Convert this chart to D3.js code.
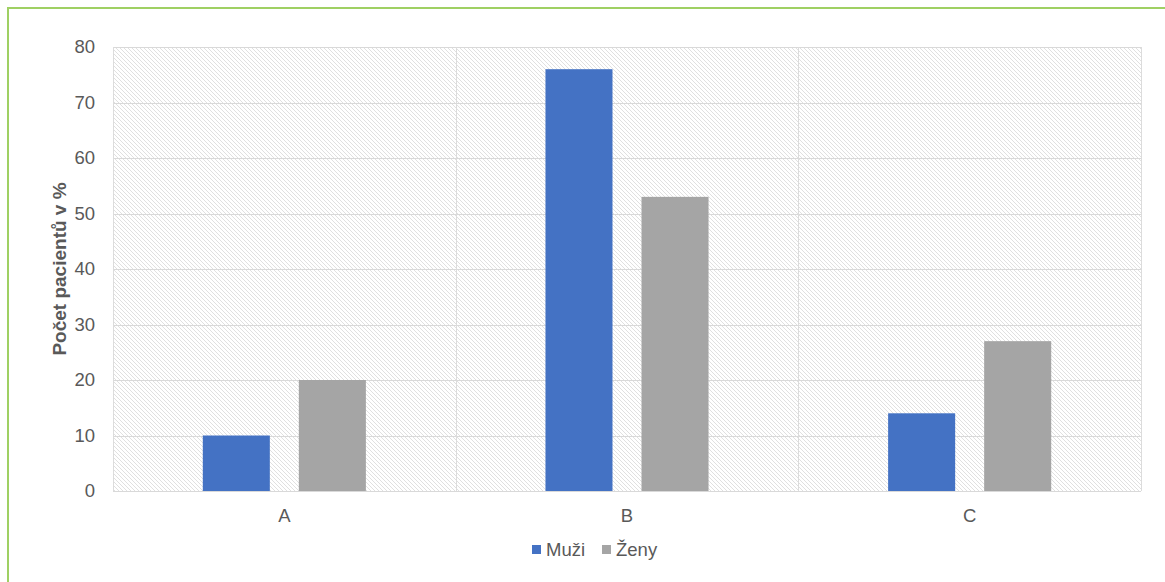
<!DOCTYPE html>
<html><head><meta charset="utf-8">
<script src="https://cdn.jsdelivr.net/npm/d3@7"></script>
<style>html,body{margin:0;padding:0;background:#fff;}svg{display:block;font-family:"Liberation Sans",Arial,sans-serif;}</style>
</head><body>
<script>
const categories = ["A", "B", "C"];
const seriesNames = ["Muži", "Ženy"];
const muzi = [10, 76, 14];
const zeny = [20, 53, 27];
const yTicks = [0, 10, 20, 30, 40, 50, 60, 70, 80];
const yTitle = "Počet pacientů v %";
const colors = ["#4472C4", "#A5A5A5"];

const W = 1165, H = 582;
const m = {left: 113, right: 1141, top: 47, bottom: 491};
const svg = d3.select("body").append("svg").attr("width", W).attr("height", H);

// frame
svg.append("line").attr("x1", 8).attr("x2", W).attr("y1", 8).attr("y2", 8).attr("stroke", "#9fd063").attr("stroke-width", 2);
svg.append("line").attr("x1", 8).attr("x2", 8).attr("y1", 7).attr("y2", H).attr("stroke", "#9fd063").attr("stroke-width", 2);

const defs = svg.append("defs");
const pat = defs.append("pattern").attr("id", "hatch").attr("patternUnits", "userSpaceOnUse")
  .attr("width", 4).attr("height", 4);
pat.append("rect").attr("width", 4).attr("height", 4).attr("fill", "#fff");
pat.append("path").attr("d", "M-1,-1L5,5M3,-1L5,1M-1,3L1,5").attr("stroke", "#e0e0e0").attr("stroke-width", 1);

const x0 = d3.scaleBand().domain(categories).range([m.left, m.right]);
const x1 = d3.scaleBand().domain(seriesNames).range([0, x0.bandwidth()]).paddingInner(0.302).paddingOuter(0.935);
const y = d3.scaleLinear().domain([0, 80]).range([m.bottom, m.top]);

svg.append("rect").attr("x", m.left).attr("y", m.top).attr("width", m.right - m.left).attr("height", m.bottom - m.top).attr("fill", "url(#hatch)");

// horizontal gridlines
svg.append("g").selectAll("line").data(yTicks).join("line")
  .attr("x1", m.left).attr("x2", m.right)
  .attr("y1", d => Math.round(y(d)) + 0.5).attr("y2", d => Math.round(y(d)) + 0.5)
  .attr("stroke", "#d9d9d9").attr("stroke-width", 1);
// vertical gridlines
const vx = categories.map(c => x0(c)).concat([m.right]);
svg.append("g").selectAll("line").data(vx).join("line")
  .attr("x1", d => Math.round(d) + 0.5).attr("x2", d => Math.round(d) + 0.5)
  .attr("y1", m.top).attr("y2", m.bottom)
  .attr("stroke", "#dcdcdc").attr("stroke-width", 1);

// bars
const data = categories.map((c, i) => ({c, vals: [muzi[i], zeny[i]]}));
const g = svg.append("g").selectAll("g").data(data).join("g").attr("transform", d => `translate(${x0(d.c)},0)`);
g.selectAll("rect").data(d => d.vals.map((v, j) => ({v, s: seriesNames[j], j}))).join("rect")
  .attr("x", d => x1(d.s)).attr("width", x1.bandwidth())
  .attr("y", d => y(d.v)).attr("height", d => y(0) - y(d.v))
  .attr("fill", d => colors[d.j]);

// y axis labels
const yAxis = d3.axisLeft(y).tickValues(yTicks).tickSize(0).tickPadding(0);
const ya = svg.append("g").attr("transform", `translate(95,0)`).call(yAxis);
ya.select(".domain").remove();
ya.selectAll("text").attr("font-size", 18.5).attr("fill", "#595959").attr("font-family", "Liberation Sans, Arial, sans-serif");

// x axis labels
const xAxis = d3.axisBottom(x0).tickSize(0).tickPadding(0);
const xa = svg.append("g").attr("transform", `translate(0,509)`).call(xAxis);
xa.select(".domain").remove();
xa.selectAll("text").attr("font-size", 18.5).attr("fill", "#595959").attr("font-family", "Liberation Sans, Arial, sans-serif");

// y title
svg.append("text").attr("transform", `translate(66,269) rotate(-90)`).attr("text-anchor", "middle")
  .attr("font-size", 19).attr("font-weight", "bold").attr("fill", "#595959").text(yTitle);

// legend
const legX = [532, 602];
const lg = svg.append("g").selectAll("g").data(seriesNames).join("g").attr("transform", (d, i) => `translate(${legX[i]},0)`);
lg.append("rect").attr("x", 0).attr("y", 545).attr("width", 9).attr("height", 9).attr("fill", (d, i) => colors[i]);
lg.append("text").attr("x", 14).attr("y", 556).attr("font-size", 18.5).attr("fill", "#595959").text(d => d);
</script>
</body></html>
